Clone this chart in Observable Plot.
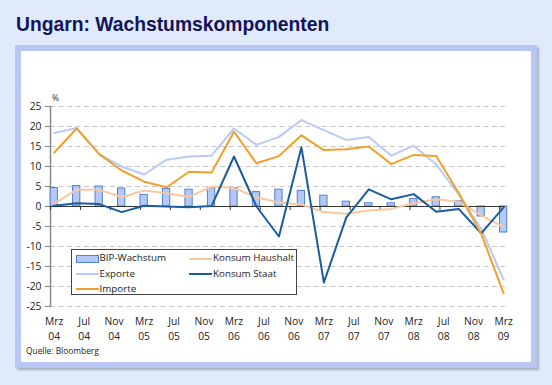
<!DOCTYPE html>
<html><head><meta charset="utf-8">
<script src="https://cdn.jsdelivr.net/npm/d3@7"></script>
<script src="https://cdn.jsdelivr.net/npm/@observablehq/plot@0.6"></script>
<style>
html,body{margin:0;padding:0;background:#e0eafb;}
#wrap{position:relative;width:552px;height:385px;overflow:hidden;background:#e0eafb;font-family:"Open Sans",sans-serif;}
#title{position:absolute;left:16px;top:15px;font-family:"Liberation Sans",Arial,sans-serif;font-weight:bold;font-size:19.3px;line-height:1;color:#13135c;white-space:nowrap;}
#frame{position:absolute;left:15px;top:45px;width:522px;height:323px;box-sizing:border-box;border:6px solid #b8c7f3;background:#fff;box-shadow:2px 2px 2px rgba(0,0,0,0.25);}
#chart{position:absolute;left:0;top:0;}
#legend{position:absolute;left:70.5px;top:249px;width:226px;height:46px;box-sizing:border-box;border:1px solid #444;background:#fff;}
.li{position:absolute;font-size:9.8px;color:#222;line-height:1;white-space:nowrap;}
.sw{position:absolute;}
#source{position:absolute;left:26px;top:346.5px;font-size:8.4px;color:#222;white-space:nowrap;line-height:1;}
</style></head>
<body>
<div id="wrap">
  <div id="title">Ungarn: Wachstumskomponenten</div>
  <div id="frame"></div>
  <div id="chart"></div>
  <div id="legend"></div>
  <div id="source">Quelle: Bloomberg</div>
</div>
<script>
// Quarterly observations, month index 0 = Mrz 04 ... 60 = Mrz 09
const months = [0,3,6,9,12,15,18,21,24,27,30,33,36,39,42,45,48,51,54,57,60];
const bipWachstum   = [4.6,5.1,5.0,4.5,2.9,4.4,4.2,4.6,4.6,3.6,4.2,3.9,2.7,1.2,0.8,0.8,1.9,2.3,1.3,-2.5,-6.5];
const konsumHaushalt= [0.7,4.2,4.2,2.3,4.0,3.3,2.4,5.0,4.6,2.3,1.0,0.5,-1.4,-1.8,-1.0,-0.6,0.8,1.8,1.2,-2.2,-5.1];
const exporte       = [18.4,19.6,13.1,10.0,8.0,11.7,12.5,12.7,19.5,15.4,17.4,21.6,19.1,16.6,17.4,12.7,15.2,10.5,3.0,-5.5,-18.3];
const konsumStaat   = [0.2,0.8,0.6,-1.4,0.2,0.0,-0.2,0.1,12.5,0.0,-7.5,14.8,-19.0,-2.7,4.3,1.8,3.1,-1.3,-0.6,-6.7,-0.2];
const importe       = [13.5,19.5,13.1,9.0,6.2,4.8,8.7,8.5,18.7,10.8,12.6,17.8,14.1,14.3,15.0,10.6,12.9,12.6,3.4,-6.8,-21.7];

const xTickMonths = [0,4,8,12,16,20,24,28,32,36,40,44,48,52,56,60];
const xTickLabels = ["Mrz 04","Jul 04","Nov 04","Mrz 05","Jul 05","Nov 05","Mrz 06","Jul 06","Nov 06","Mrz 07","Jul 07","Nov 07","Mrz 08","Jul 08","Nov 08","Mrz 09"];
const yTicks = [-25,-20,-15,-10,-5,0,5,10,15,20,25];

const colors = {
  barFill:"#b5c9f6", barStroke:"#4f7fd2",
  haushalt:"#f9c8a0", exporte:"#b8caf5", staat:"#1b5c9e", importe:"#f0a02c"
};

const rows = months.map((m,i)=>({m, bip:bipWachstum[i], haushalt:konsumHaushalt[i], exporte:exporte[i], staat:konsumStaat[i], importe:importe[i]}));
const xticks = xTickMonths.map((m,i)=>({m, label:xTickLabels[i].replace(" ","\n")}));

const FONT = "Open Sans";
const chart = Plot.plot({
  width:552, height:385,
  marginLeft:50, marginRight:47, marginTop:106, marginBottom:79,
  style:{background:"transparent", fontFamily:FONT, overflow:"visible"},
  x:{domain:[-0.5,60.25], axis:null},
  y:{domain:[-25,25]},
  marks:[
    Plot.ruleY(yTicks.filter(v=>v!==0), {stroke:"#c6c6c6", strokeDasharray:"5,3.5", strokeWidth:1}),
    Plot.axisY({ticks:yTicks, tickSize:5, tickPadding:4, tickFormat:d=>String(d), fontSize:10.3, color:"#222", stroke:"#888", label:null}),
    Plot.frame({anchor:"left", stroke:"#8a8a8a", strokeWidth:1.5}),
    Plot.rectY(rows, {x1:d=>d.m-1.5, x2:d=>d.m+1.5, y:"bip", insetLeft:7.6, insetRight:7.6, fill:colors.barFill, stroke:colors.barStroke, strokeWidth:1}),
    Plot.ruleY([0], {stroke:"#333", strokeWidth:1}),
    Plot.ruleX(xTickMonths, {x:d=>d-0.5, y1:0, y2:-1, stroke:"#333", strokeWidth:1}),
    Plot.line(rows, {x:"m", y:"haushalt", stroke:colors.haushalt, strokeWidth:2}),
    Plot.line(rows, {x:"m", y:"exporte", stroke:colors.exporte, strokeWidth:2}),
    Plot.line(rows, {x:"m", y:"staat", stroke:colors.staat, strokeWidth:2}),
    Plot.line(rows, {x:"m", y:"importe", stroke:colors.importe, strokeWidth:2}),
    Plot.text(xticks, {x:"m", y:()=>-25, text:"label", dy:8.5, lineAnchor:"top", lineHeight:1.4, fontSize:10.3, fill:"#222"}),
    Plot.text(["%"], {frameAnchor:"top-left", dx:1.5, dy:-12, textAnchor:"start", fontSize:8.5, fill:"#333"})
  ]
});
document.getElementById("chart").appendChild(chart);

// Legend
const legendItems = [
  {label:"BIP-Wachstum", type:"bar", color:colors.barFill, stroke:colors.barStroke, col:0, row:0},
  {label:"Konsum Haushalt", type:"line", color:colors.haushalt, col:1, row:0},
  {label:"Exporte", type:"line", color:colors.exporte, col:0, row:1},
  {label:"Konsum Staat", type:"line", color:colors.staat, col:1, row:1},
  {label:"Importe", type:"line", color:colors.importe, col:0, row:2}
];
const leg = document.getElementById("legend");
const colX = [4, 117.5];
const rowY = [8.7, 24, 39];
legendItems.forEach(it=>{
  const sw = document.createElement("div");
  sw.className = "sw";
  const x = colX[it.col], cy = rowY[it.row];
  if(it.type==="bar"){
    Object.assign(sw.style,{left:x+"px", top:(cy-3.5)+"px", width:"21px", height:"6px", background:it.color, border:"1px solid "+it.stroke});
  } else {
    Object.assign(sw.style,{left:x+"px", top:(cy-1)+"px", width:"23px", height:"2px", background:it.color});
  }
  leg.appendChild(sw);
  const t = document.createElement("div");
  t.className = "li";
  t.textContent = it.label;
  Object.assign(t.style,{left:(x+24)+"px", top:(cy-5.5)+"px"});
  leg.appendChild(t);
});
</script>
</body></html>
